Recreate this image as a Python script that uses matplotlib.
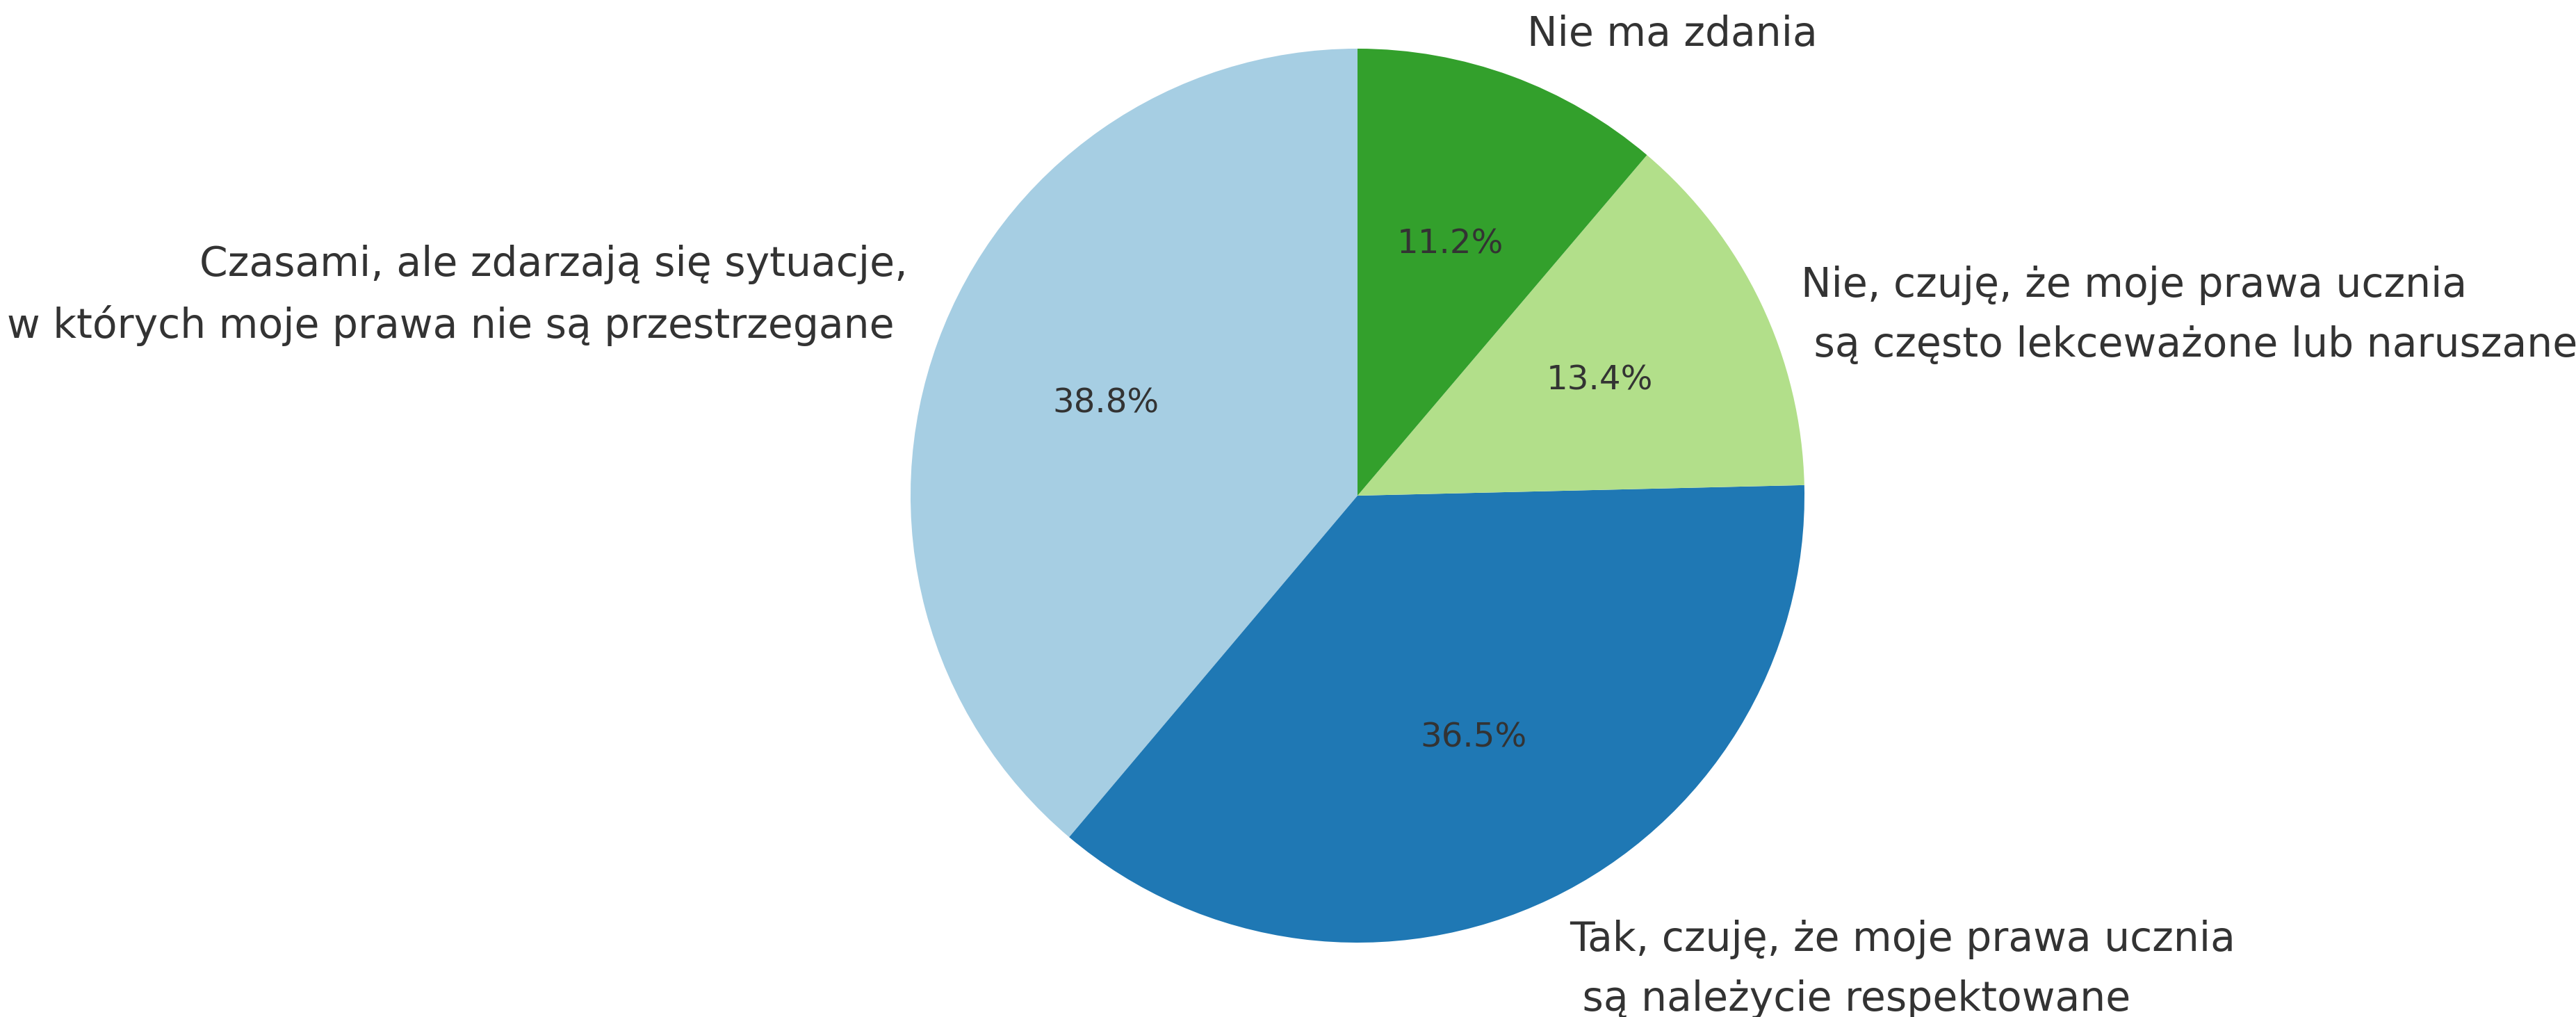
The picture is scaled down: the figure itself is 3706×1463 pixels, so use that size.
import matplotlib.pyplot as plt

labels = [
    "Czasami, ale zdarzają się sytuacje,\nw których moje prawa nie są przestrzegane ",
    "Tak, czuję, że moje prawa ucznia\n są należycie respektowane",
    "Nie, czuję, że moje prawa ucznia\n są często lekceważone lub naruszane",
    "Nie ma zdania",
]
shares = [38.8, 36.5, 13.4, 11.2]
colors = ["#a6cee3", "#1f78b4", "#b2df8a", "#33a02c"]

W, H, DPI = 3706, 1463, 300
fig = plt.figure(figsize=(W / DPI, H / DPI), dpi=DPI)

# pie centre and radius in pixels
cx, cy, r = 1953, 713, 643
ax = fig.add_axes([(cx - r) / W, (H - cy - r) / H, 2 * r / W, 2 * r / H])

wedges, texts, autotexts = ax.pie(
    shares,
    labels=labels,
    colors=colors,
    startangle=90,
    autopct="%1.1f%%",
    textprops={"color": "#333333", "fontsize": 14},
)
for t in autotexts:
    t.set_fontsize(11.6)

# two-line labels sit half a line off the default spot in the reference
nudge = [(0.026, 0.07), (0, -0.068), (0, -0.07), (0, 0)]
for t, (dx, dy) in zip(texts, nudge):
    t.set_linespacing(1.65)
    x, y = t.get_position()
    t.set_position((x + dx, y + dy))

ax.set_xlim(-1, 1)
ax.set_ylim(-1, 1)
ax.set_aspect("auto")

fig.savefig("out.png", dpi=DPI)
